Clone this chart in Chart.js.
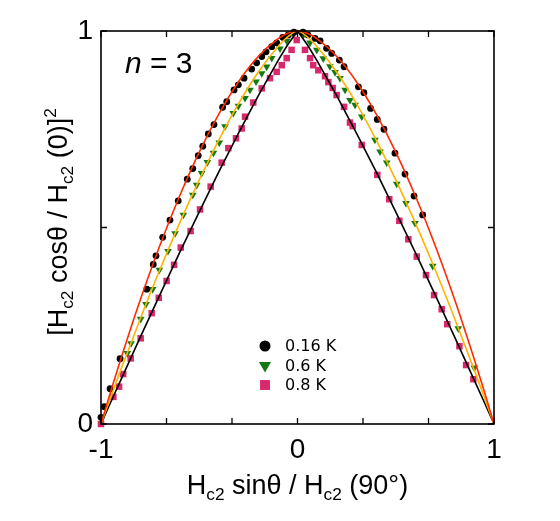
<!DOCTYPE html>
<html>
<head>
<meta charset="utf-8">
<script src="https://cdn.jsdelivr.net/npm/chart.js@4/dist/chart.umd.min.js"></script>
<style>
html,body{margin:0;padding:0;background:#fff;}
canvas{display:block;}
</style>
</head>
<body>
<canvas id="c" width="560" height="521"></canvas>
<script>
// ---- Data ----
const xTicks = [-1, -2/3, -1/3, 0, 1/3, 2/3, 1];
const xTickLabels = ['-1', '0', '1'];
const yTicks = [0, 0.5, 1];
const yTickLabels = ['0', '1'];
const legendLabels = ['0.16 K', '0.6 K', '0.8 K'];

// measured points [x, y]
const data016 = [[-1.0,0.017],[-0.983,0.044],[-0.954,0.090],[-0.903,0.166],[-0.767,0.343],[-0.734,0.406],[-0.720,0.428],[-0.686,0.475],[-0.649,0.519],[-0.607,0.568],[-0.561,0.623],[-0.533,0.650],[-0.505,0.683],[-0.482,0.707],[-0.454,0.738],[-0.425,0.762],[-0.381,0.806],[-0.360,0.820],[-0.323,0.850],[-0.301,0.863],[-0.272,0.880],[-0.233,0.903],[-0.208,0.919],[-0.182,0.935],[-0.160,0.947],[-0.131,0.960],[-0.106,0.970],[-0.075,0.984],[-0.047,0.990],[-0.018,0.997],[0.028,0.997],[0.053,0.990],[0.089,0.981],[0.115,0.975],[0.148,0.956],[0.174,0.943],[0.213,0.926],[0.237,0.909],[0.310,0.858],[0.338,0.843],[0.372,0.803],[0.406,0.775],[0.440,0.750],[0.496,0.689],[0.547,0.636],[0.593,0.580],[0.637,0.532]];
const data06 = [[-0.866,0.180],[-0.847,0.205],[-0.798,0.267],[-0.771,0.305],[-0.737,0.343],[-0.703,0.392],[-0.659,0.440],[-0.623,0.485],[-0.581,0.532],[-0.533,0.583],[-0.513,0.608],[-0.488,0.638],[-0.459,0.666],[-0.428,0.690],[-0.398,0.716],[-0.369,0.757],[-0.327,0.791],[-0.301,0.809],[-0.267,0.829],[-0.242,0.850],[-0.211,0.871],[-0.182,0.892],[-0.157,0.909],[-0.131,0.931],[-0.089,0.955],[-0.055,0.975],[-0.021,0.993],[0.030,0.990],[0.064,0.970],[0.098,0.952],[0.131,0.930],[0.165,0.910],[0.191,0.895],[0.216,0.880],[0.242,0.850],[0.267,0.824],[0.293,0.812],[0.327,0.782],[0.394,0.723],[0.420,0.693],[0.454,0.665],[0.505,0.611],[0.552,0.562],[0.598,0.511],[0.688,0.402],[0.818,0.243],[0.900,0.143]];
const data08 = [[-1.0,0.0],[-0.937,0.069],[-0.908,0.095],[-0.887,0.127],[-0.849,0.167],[-0.798,0.218],[-0.742,0.282],[-0.706,0.321],[-0.666,0.364],[-0.628,0.405],[-0.594,0.449],[-0.544,0.491],[-0.496,0.546],[-0.442,0.604],[-0.386,0.665],[-0.352,0.702],[-0.313,0.727],[-0.284,0.752],[-0.267,0.782],[-0.225,0.818],[-0.182,0.854],[-0.140,0.880],[-0.106,0.896],[-0.080,0.913],[-0.055,0.931],[-0.030,0.952],[-0.004,0.977],[0.038,0.952],[0.064,0.931],[0.080,0.913],[0.106,0.900],[0.140,0.885],[0.157,0.870],[0.179,0.855],[0.199,0.837],[0.237,0.807],[0.267,0.767],[0.281,0.758],[0.327,0.710],[0.406,0.634],[0.467,0.572],[0.518,0.517],[0.564,0.470],[0.607,0.426],[0.654,0.379],[0.695,0.328],[0.734,0.292],[0.762,0.254],[0.824,0.198],[0.858,0.150],[0.895,0.114]];

// fit curves
const fitX      = [-1, -0.95, -0.9, -0.8, -0.7, -0.6, -0.5, -0.4, -0.3, -0.2, -0.1, -0.05, 0, 0.05, 0.1, 0.2, 0.3, 0.4, 0.5, 0.6, 0.7, 0.8, 0.9, 0.95, 1];
const fitRed    = [0, 0.084, 0.164, 0.316, 0.455, 0.580, 0.692, 0.789, 0.871, 0.935, 0.980, 0.994, 1, 0.994, 0.980, 0.935, 0.871, 0.789, 0.692, 0.580, 0.455, 0.316, 0.164, 0.084, 0];
const fitOrange = [0, 0.069, 0.137, 0.268, 0.393, 0.511, 0.621, 0.723, 0.815, 0.895, 0.960, 0.985, 1, 0.985, 0.960, 0.895, 0.815, 0.723, 0.621, 0.511, 0.393, 0.268, 0.137, 0.069, 0];
const fitBlack  = [0, 0.056, 0.111, 0.221, 0.329, 0.436, 0.540, 0.642, 0.740, 0.835, 0.924, 0.965, 1, 0.965, 0.924, 0.835, 0.740, 0.642, 0.540, 0.436, 0.329, 0.221, 0.111, 0.056, 0];

const toXY = arr => arr.map(p => ({x: p[0], y: p[1]}));
const fitXY = ys => fitX.map((x, i) => ({x: x, y: ys[i]}));

const FONT = '"Liberation Sans", Arial, sans-serif';

function drawRich(ctx, parts, size, x, y, align) {
  const fontFor = p => {
    const s = (p.s === 'sub' || p.s === 'sup') ? size * 0.64 : size;
    return (p.i ? 'italic ' : '') + s + 'px ' + FONT;
  };
  let w = 0;
  parts.forEach(p => { ctx.font = fontFor(p); w += ctx.measureText(p.t).width; });
  let cx = align === 'center' ? x - w / 2 : x;
  ctx.textBaseline = 'alphabetic';
  ctx.textAlign = 'left';
  parts.forEach(p => {
    ctx.font = fontFor(p);
    let dy = 0;
    if (p.s === 'sub') dy = size * 0.22;
    if (p.s === 'sup') dy = -size * 0.42;
    ctx.fillText(p.t, cx, y + dy);
    cx += ctx.measureText(p.t).width;
  });
}

const decor = {
  id: 'decor',
  afterDraw(chart) {
    const ctx = chart.ctx;
    const a = chart.chartArea;
    const xs = chart.scales.x, ys = chart.scales.y;
    ctx.save();
    ctx.strokeStyle = '#000';
    ctx.lineWidth = 1.6;
    ctx.strokeRect(a.left, a.top, a.right - a.left, a.bottom - a.top);
    const tl = 6;
    ctx.lineWidth = 1.3;
    ctx.beginPath();
    xTicks.forEach(v => {
      const px = xs.getPixelForValue(v);
      ctx.moveTo(px, a.bottom); ctx.lineTo(px, a.bottom - tl);
      ctx.moveTo(px, a.top); ctx.lineTo(px, a.top + tl);
    });
    yTicks.forEach(v => {
      const py = ys.getPixelForValue(v);
      ctx.moveTo(a.left, py); ctx.lineTo(a.left + tl, py);
      ctx.moveTo(a.right, py); ctx.lineTo(a.right - tl, py);
    });
    ctx.stroke();

    ctx.fillStyle = '#000';
    // n = 3
    drawRich(ctx, [{t: 'n', i: true}, {t: ' = 3'}], 30, 125, 73, 'left');
    // x title
    drawRich(ctx, [{t: 'H'}, {t: 'c2', s: 'sub'}, {t: ' sin\u03b8 / H'}, {t: 'c2', s: 'sub'}, {t: ' (90\u00b0)'}], 27, (a.left + a.right) / 2, 494, 'center');
    // y title
    ctx.save();
    ctx.translate(67, 222);
    ctx.rotate(-Math.PI / 2);
    drawRich(ctx, [{t: '[H'}, {t: 'c2', s: 'sub'}, {t: ' cos\u03b8 / H'}, {t: 'c2', s: 'sub'}, {t: ' (0)]'}, {t: '2', s: 'sup'}], 27, 0, 0, 'center');
    ctx.restore();

    // legend
    const lx = 265, ly0 = 346, dy = 19.5;
    const sets = [chart.data.datasets[3], chart.data.datasets[4], chart.data.datasets[5]];
    sets.forEach((d, i) => {
      const y = ly0 + i * dy;
      ctx.fillStyle = d.pointBackgroundColor;
      ctx.strokeStyle = d.pointBorderColor;
      Chart.helpers.drawPoint(ctx, {
        pointStyle: d.pointStyle,
        rotation: d.pointRotation || 0,
        radius: d.legendRadius,
        borderWidth: 0
      }, lx, y);
      ctx.fillStyle = '#000';
      ctx.font = '16px "DejaVu Sans", Verdana, sans-serif';
      ctx.textBaseline = 'middle';
      ctx.textAlign = 'left';
      ctx.fillText(legendLabels[i], 285, y + 1);
    });
    ctx.restore();
  }
};

new Chart(document.getElementById('c'), {
  type: 'scatter',
  data: {
    datasets: [
      {label: 'fit 0.16 K', data: fitXY(fitRed), showLine: true, borderColor: '#ff2a00', borderWidth: 1.6, pointRadius: 0, cubicInterpolationMode: 'monotone', order: 0, clip: false},
      {label: 'fit 0.6 K', data: fitXY(fitOrange), showLine: true, borderColor: '#ffb400', borderWidth: 1.6, pointRadius: 0, cubicInterpolationMode: 'monotone', order: 0, clip: false},
      {label: 'fit 0.8 K', data: fitXY(fitBlack), showLine: true, borderColor: '#000000', borderWidth: 1.6, pointRadius: 0, tension: 0, order: 0, clip: false},
      {label: legendLabels[0], data: toXY(data016), pointStyle: 'circle', pointRadius: 3.4, pointBorderWidth: 0, pointBackgroundColor: '#000000', pointBorderColor: '#000000', legendRadius: 5.5, order: 1, clip: false},
      {label: legendLabels[1], data: toXY(data06), pointStyle: 'triangle', pointRotation: 180, pointRadius: 4.4, pointBorderWidth: 0, pointBackgroundColor: '#137a13', pointBorderColor: '#137a13', legendRadius: 7, order: 1, clip: false},
      {label: legendLabels[2], data: toXY(data08), pointStyle: 'rect', pointRadius: 4.6, pointBorderWidth: 0, pointBackgroundColor: '#d9286e', pointBorderColor: '#d9286e', legendRadius: 7, order: 1, clip: false}
    ]
  },
  options: {
    responsive: false,
    animation: false,
    layout: {padding: {left: 0, right: 66, top: 31, bottom: 0}},
    plugins: {legend: {display: false}, tooltip: {enabled: false}},
    scales: {
      x: {
        type: 'linear', position: 'bottom', min: -1, max: 1,
        afterBuildTicks: s => { s.ticks = xTicks.map(v => ({value: v})); },
        afterFit: s => { s.height = 97; },
        grid: {display: false, drawTicks: false},
        border: {display: false},
        ticks: {
          padding: 9, color: '#000', font: {family: FONT, size: 28}, maxRotation: 0, autoSkip: false,
          callback: v => { const l = String(Math.round(v * 1000) / 1000); return xTickLabels.includes(l) ? l : ''; }
        }
      },
      y: {
        type: 'linear', position: 'left', min: 0, max: 1,
        afterBuildTicks: s => { s.ticks = yTicks.map(v => ({value: v})); },
        afterFit: s => { s.width = 101; },
        grid: {display: false, drawTicks: false},
        border: {display: false},
        ticks: {
          padding: 8, color: '#000', font: {family: FONT, size: 28}, autoSkip: false,
          callback: v => { const l = String(v); return yTickLabels.includes(l) ? l : ''; }
        }
      }
    }
  },
  plugins: [decor]
});
</script>
</body>
</html>
